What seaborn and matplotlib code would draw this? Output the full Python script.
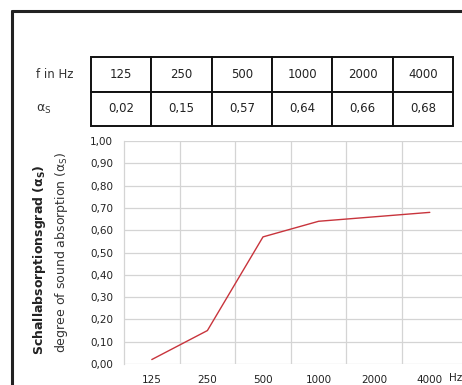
import matplotlib
matplotlib.use("Agg")
import matplotlib.pyplot as plt
from matplotlib.lines import Line2D
from matplotlib.ticker import FixedLocator
import seaborn as sns
import pandas as pd

# ---- data ----
freqs = ["125", "250", "500", "1000", "2000", "4000"]
alpha = [0.02, 0.15, 0.57, 0.64, 0.66, 0.68]
alpha_labels = ["0,02", "0,15", "0,57", "0,64", "0,66", "0,68"]
ytick_vals = [0.0, 0.1, 0.2, 0.3, 0.4, 0.5, 0.6, 0.7, 0.8, 0.9, 1.0]
ytick_labels = ["0,00", "0,10", "0,20", "0,30", "0,40", "0,50",
                "0,60", "0,70", "0,80", "0,90", "1,00"]

sns.set_style("white")
plt.rcParams['font.family'] = ['DejaVu Sans']

W, H = 462, 385
fig = plt.figure(figsize=(W / 100, H / 100), dpi=100)

def fx(px):
    return px / W

def fy(py):
    return 1 - py / H

# outer frame (top and left)
fig.add_artist(Line2D([fx(12), fx(12)], [0, fy(11)], transform=fig.transFigure,
                      color="#222222", lw=2.2))
fig.add_artist(Line2D([fx(12), 1.0], [fy(11), fy(11)], transform=fig.transFigure,
                      color="#222222", lw=2.2))

# ---- table ----
tax = fig.add_axes([fx(91), fy(126), fx(453) - fx(91), fy(57) - fy(126)])
tax.axis("off")
tbl = tax.table(cellText=[freqs, alpha_labels], bbox=[0, 0, 1, 1], cellLoc="center")
tbl.auto_set_font_size(False)
for (r, c), cell in tbl.get_celld().items():
    cell.set_linewidth(1.4)
    cell.set_edgecolor("#111111")
    cell.get_text().set_fontsize(8.5)
    cell.get_text().set_color("#222222")

fig.text(fx(36), fy(74), "f in Hz", fontsize=8.5, va="center", ha="left", color="#333333")
fig.text(fx(36), fy(109), r"$\mathregular{\alpha_S}$", fontsize=9, va="center",
         ha="left", color="#333333")

# ---- chart ----
ax = fig.add_axes([fx(124), fy(364), 1 - fx(124), fy(141) - fy(364)])
df = pd.DataFrame({"f": freqs, "a": alpha})
sns.lineplot(data=df, x="f", y="a", ax=ax, color="#c8343c", lw=1.0, sort=False)

ax.set_ylim(0, 1.0)
ax.set_xlim(-0.5, -0.5 + 338 / 55.6)
ax.yaxis.set_major_locator(FixedLocator(ytick_vals))
ax.set_yticklabels(ytick_labels)
ax.xaxis.set_major_locator(FixedLocator(list(range(len(freqs)))))
ax.set_xticklabels(freqs)
ax.xaxis.set_minor_locator(FixedLocator([0.5, 1.5, 2.5, 3.5, 4.5]))
ax.grid(True, axis="y", which="major", color="#d4d4d4", lw=0.9)
ax.grid(True, axis="x", which="minor", color="#d4d4d4", lw=0.9)
ax.grid(False, axis="x", which="major")
ax.set_axisbelow(True)
for s in ["top", "right", "bottom"]:
    ax.spines[s].set_visible(False)
ax.spines["left"].set_color("#d4d4d4")
ax.spines["left"].set_linewidth(0.9)
ax.tick_params(axis="y", length=3, color="#d4d4d4", pad=5, labelsize=7.5, labelcolor="#222222")
ax.tick_params(axis="x", which="both", length=0, pad=8, labelsize=7.5, labelcolor="#222222")
ax.set_xlabel("")
ax.set_ylabel("")

fig.text(fx(449), fy(378), "Hz", fontsize=7.5, va="center",
         ha="left", color="#222222")

# y label (two lines)
fig.text(fx(40), fy(260), r"Schallabsorptionsgrad ($\mathregular{\alpha_S}$)",
         rotation=90, fontsize=9, fontweight="bold", va="center", ha="center",
         color="#222222")
fig.text(fx(62), fy(252), r"degree of sound absorption ($\mathregular{\alpha_S}$)",
         rotation=90, fontsize=9, va="center", ha="center", color="#333333")

fig.savefig("out.png", dpi=100)
